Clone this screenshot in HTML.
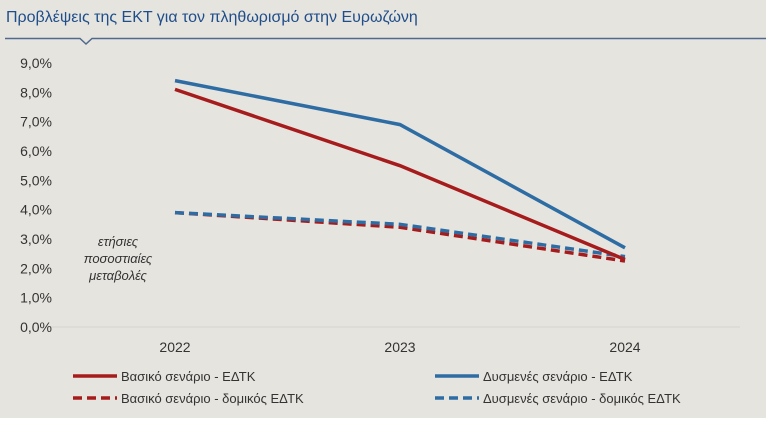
<!DOCTYPE html>
<html><head><meta charset="utf-8">
<style>
html,body{margin:0;padding:0;background:#fff;}
#wrap{position:relative;width:766px;height:422px;background:#fff;overflow:hidden;font-family:"Liberation Sans",sans-serif;}
svg{position:absolute;left:0;top:0;}
</style></head>
<body>
<div id="wrap">
<svg id="chart" width="766" height="422">
  <rect x="0" y="0" width="766" height="418" fill="#e6e4df"/>
  <text x="6" y="22" font-size="16" fill="#1f4e8a">Προβλέψεις της ΕΚΤ για τον πληθωρισμό στην Ευρωζώνη</text>
  <polyline points="5,38.5 80,38.5 86,44 92,38.5 766,38.5" fill="none" stroke="#50698f" stroke-width="1.5"/>
  <text x="112" y="246" font-size="13" font-style="italic" fill="#333" text-anchor="middle"><tspan x="118" dy="0">ετήσιες</tspan><tspan x="118" dy="17">ποσοστιαίες</tspan><tspan x="118" dy="17">μεταβολές</tspan></text>
  <g id="axes"></g>
  <g id="series"></g>
  <g id="legend"></g>
</svg>
</div>
<script>
const years = ["2022","2023","2024"];
const yTicks = [0,1,2,3,4,5,6,7,8,9];
const baseline = [8.1, 5.5, 2.3];
const adverse = [8.4, 6.9, 2.7];
const baselineCore = [3.9, 3.4, 2.25];
const adverseCore = [3.9, 3.5, 2.4];
const seriesNames = ["Βασικό σενάριο - ΕΔΤΚ","Δυσμενές σενάριο - ΕΔΤΚ","Βασικό σενάριο - δομικός ΕΔΤΚ","Δυσμενές σενάριο - δομικός ΕΔΤΚ"];

const NS="http://www.w3.org/2000/svg";
function xPos(i){return 175+i*225;}
function yPos(v){return 327-v*(264/9);}
function mk(tag,attrs,parent){const e=document.createElementNS(NS,tag);for(const k in attrs)e.setAttribute(k,attrs[k]);parent.appendChild(e);return e;}

const axes=document.getElementById('axes');
const grid=mk('line',{x1:45,x2:740,y1:yPos(0),y2:yPos(0),stroke:'#d6d4cf','stroke-width':1},axes);


yTicks.forEach(t=>{
  const tx=mk('text',{x:52,y:yPos(t)+5,'font-size':14,fill:'#333','text-anchor':'end'},axes);
  tx.textContent=t.toFixed(1).replace('.',',')+'%';
  
  
});
years.forEach((y,i)=>{
  const tx=mk('text',{x:xPos(i),y:352,'font-size':14,fill:'#333','text-anchor':'middle'},axes);
  tx.textContent=y;
  
  
});

const ser=document.getElementById('series');
const defs=[
  {d:baselineCore,c:'#a61c1c',dash:'9,5',n:'line-baseline-core'},
  {d:adverseCore,c:'#2e6da4',dash:'9,5',n:'line-adverse-core'},
  {d:baseline,c:'#a61c1c',dash:'',n:'line-baseline'},
  {d:adverse,c:'#2e6da4',dash:'',n:'line-adverse'}
];
defs.forEach(s=>{
  const pts=s.d.map((v,i)=>xPos(i)+','+yPos(v)).join(' ');
  const p=mk('polyline',{points:pts,fill:'none',stroke:s.c,'stroke-width':3.5,'stroke-dasharray':s.dash||'none'},ser);
  
  
});

const leg=document.getElementById('legend');
const legPos=[[48,376,'#a61c1c',''],[295,376,'#2e6da4',''],[48,398,'#a61c1c','9,5'],[295,398,'#2e6da4','9,5']];
legPos.forEach((lp,i)=>{
  const x0 = i%2===0 ? 73 : 435;
  const l=mk('line',{x1:x0,x2:x0+44,y1:lp[1],y2:lp[1],stroke:lp[2],'stroke-width':3.5,'stroke-dasharray':lp[3]||'none'},leg);
  
  
  const t=mk('text',{x:x0+48,y:lp[1]+5,'font-size':13,fill:'#333'},leg);
  t.textContent=seriesNames[i];
  
  
});
</script>
</body></html>
